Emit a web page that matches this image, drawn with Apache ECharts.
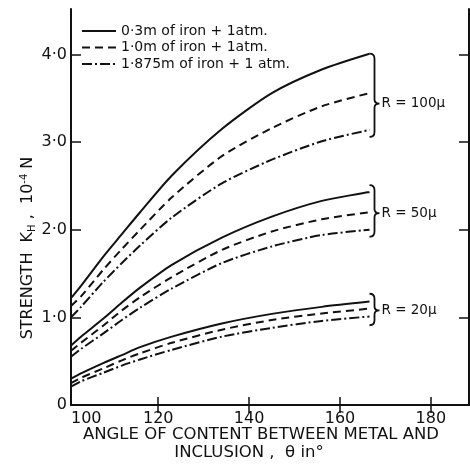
<!DOCTYPE html>
<html>
<head>
<meta charset="utf-8">
<script src="https://cdn.jsdelivr.net/npm/echarts@6/dist/echarts.min.js"></script>
<style>html,body{margin:0;padding:0;background:#fff;}#c{width:470px;height:466px;}</style>
</head>
<body>
<div id="c"></div>
<script>
// angle (degrees)
const angles = [100.8, 103, 108, 112, 116, 123, 134, 145, 156, 166.5];
// R = 100 micron
const r100_03 = [1.22, 1.36, 1.70, 1.95, 2.20, 2.62, 3.15, 3.56, 3.83, 4.01];
const r100_10 = [1.13, 1.24, 1.55, 1.78, 2.00, 2.37, 2.84, 3.16, 3.41, 3.56];
const r100_1875 = [1.00, 1.12, 1.41, 1.62, 1.82, 2.14, 2.53, 2.80, 3.01, 3.14];
// R = 50 micron
const r50_03 = [0.68, 0.78, 0.99, 1.17, 1.34, 1.60, 1.91, 2.15, 2.33, 2.43];
const r50_10 = [0.62, 0.71, 0.91, 1.08, 1.23, 1.46, 1.77, 1.98, 2.12, 2.20];
const r50_1875 = [0.55, 0.64, 0.82, 0.97, 1.11, 1.33, 1.62, 1.81, 1.94, 2.00];
// R = 20 micron
const r20_03 = [0.30, 0.36, 0.48, 0.57, 0.66, 0.78, 0.93, 1.04, 1.12, 1.18];
const r20_10 = [0.25, 0.31, 0.42, 0.51, 0.59, 0.71, 0.86, 0.97, 1.045, 1.10];
const r20_1875 = [0.21, 0.27, 0.37, 0.45, 0.52, 0.63, 0.78, 0.88, 0.96, 1.01];

const seriesNames = ['0·3m of iron + 1atm.', '1·0m of iron + 1atm.', '1·875m of iron + 1 atm.'];
const xTickValues = [120, 140, 160, 180];
const xLabelValues = [100.8, 120, 140, 160, 180];
const yTickValues = [1, 2, 3, 4];
const yLabelValues = [0, 1, 2, 3, 4];

// brackets: x, top, tip, bottom
const braceX = [167.6, 167.6, 167.6];
const braceTop = [4.01, 2.51, 1.27];
const braceTip = [3.44, 2.19, 1.08];
const braceBottom = [3.06, 1.92, 0.91];
const braceLabels = ['R = 100μ', 'R = 50μ', 'R = 20μ'];

const FONT = 'DejaVu Sans';
const INK = '#111';
const lineTypes = ['solid', [8, 5], [10, 3, 2, 3]];

function mk(arr, idx) {
  return {
    type: 'line', name: seriesNames[idx], data: angles.map((x, i) => [x, arr[i]]),
    symbol: 'none', smooth: 0.25, silent: true,
    lineStyle: { color: INK, width: 2, type: lineTypes[idx] },
    itemStyle: { color: INK }
  };
}

const chart = echarts.init(document.getElementById('c'));
const axisLineStyle = { show: true, lineStyle: { color: INK, width: 2 } };
const option = {
  animation: false,
  backgroundColor: '#fff',
  grid: { left: 71, right: 1, top: 9, bottom: 61 },
  legend: {
    data: seriesNames, orient: 'vertical', left: 81, top: 24,
    itemWidth: 34, itemHeight: 14, itemGap: 2.5, padding: 0,
    itemStyle: { opacity: 0 },
    textStyle: { fontFamily: FONT, fontSize: 14, color: INK },
    selectedMode: false
  },
  xAxis: [{
    type: 'value', min: 100.8, max: 188.4, position: 'bottom',
    axisLine: axisLineStyle, splitLine: { show: false },
    axisTick: { show: true, inside: true, length: 8, customValues: xTickValues, lineStyle: { color: INK, width: 1.5 } },
    axisLabel: {
      customValues: xLabelValues, alignMinLabel: 'left', margin: 6,
      formatter: v => String(Math.round(v / 20) * 20),
      fontFamily: FONT, fontSize: 16, color: INK
    }
  }, {
    type: 'value', min: 100.8, max: 188.4, position: 'top',
    axisLine: axisLineStyle, splitLine: { show: false },
    axisTick: { show: true, inside: true, length: 8, customValues: xTickValues, lineStyle: { color: INK, width: 1.5 } },
    axisLabel: { show: false }
  }],
  yAxis: [{
    type: 'value', min: 0, max: 4.52, position: 'left',
    axisLine: axisLineStyle, splitLine: { show: false },
    axisTick: { show: true, inside: true, length: 10, customValues: yTickValues, lineStyle: { color: INK, width: 1.5 } },
    axisLabel: {
      customValues: yLabelValues, margin: 4,
      formatter: v => v === 0 ? '0' : v.toFixed(1).replace('.', '·'),
      fontFamily: FONT, fontSize: 16, color: INK
    }
  }, {
    type: 'value', min: 0, max: 4.52, position: 'right',
    axisLine: axisLineStyle, splitLine: { show: false },
    axisTick: { show: true, inside: true, length: 10, customValues: yTickValues, lineStyle: { color: INK, width: 1.5 } },
    axisLabel: { show: false }
  }],
  graphic: [
    {
      type: 'text', x: 28, y: 248, rotation: Math.PI / 2,
      style: {
        text: 'STRENGTH  K{sub|H} ,  10{sup|-4} N',
        fontFamily: FONT, fontSize: 16, fill: INK, align: 'center', verticalAlign: 'middle',
        rich: {
          sub: { fontFamily: FONT, fontSize: 10, fill: INK, padding: [8, 0, 0, 0] },
          sup: { fontFamily: FONT, fontSize: 10, fill: INK, padding: [0, 0, 8, 0] }
        }
      }
    },
    {
      type: 'text', x: 261, y: 435,
      style: { text: 'ANGLE OF CONTENT BETWEEN METAL AND', fontFamily: FONT, fontSize: 16.5, fill: INK, align: 'center', verticalAlign: 'middle' }
    },
    {
      type: 'text', x: 249, y: 453,
      style: { text: 'INCLUSION ,  θ in°', fontFamily: FONT, fontSize: 16.5, fill: INK, align: 'center', verticalAlign: 'middle' }
    }
  ],
  series: [
    mk(r100_03, 0), mk(r100_10, 1), mk(r100_1875, 2),
    mk(r50_03, 0), mk(r50_10, 1), mk(r50_1875, 2),
    mk(r20_03, 0), mk(r20_10, 1), mk(r20_1875, 2),
    {
      type: 'custom', name: 'braces', silent: true,
      data: braceX.map((x, i) => [x, braceTop[i], braceTip[i], braceBottom[i]]),
      renderItem: function (params, api) {
        const x = api.value(0);
        const pT = api.coord([x, api.value(1)]);
        const pM = api.coord([x, api.value(2)]);
        const pB = api.coord([x, api.value(3)]);
        const cx = pT[0], yT = pT[1], yM = pM[1], yB = pB[1];
        const d = 'M' + (cx - 5) + ' ' + yT + ' Q' + cx + ' ' + yT + ' ' + cx + ' ' + (yT + 5) +
          ' L' + cx + ' ' + (yM - 4) + ' Q' + cx + ' ' + yM + ' ' + (cx + 5) + ' ' + yM +
          ' Q' + cx + ' ' + yM + ' ' + cx + ' ' + (yM + 4) +
          ' L' + cx + ' ' + (yB - 5) + ' Q' + cx + ' ' + yB + ' ' + (cx - 5) + ' ' + yB;
        return {
          type: 'group', children: [
            { type: 'path', shape: { pathData: d }, style: { stroke: INK, fill: null, lineWidth: 1.8 } },
            { type: 'text', x: cx + 7, y: yM, style: { text: braceLabels[params.dataIndex], fontFamily: FONT, fontSize: 13.5, fill: INK, verticalAlign: 'middle', align: 'left' } }
          ]
        };
      }
    }
  ]
};
chart.setOption(option);
</script>
</body>
</html>
